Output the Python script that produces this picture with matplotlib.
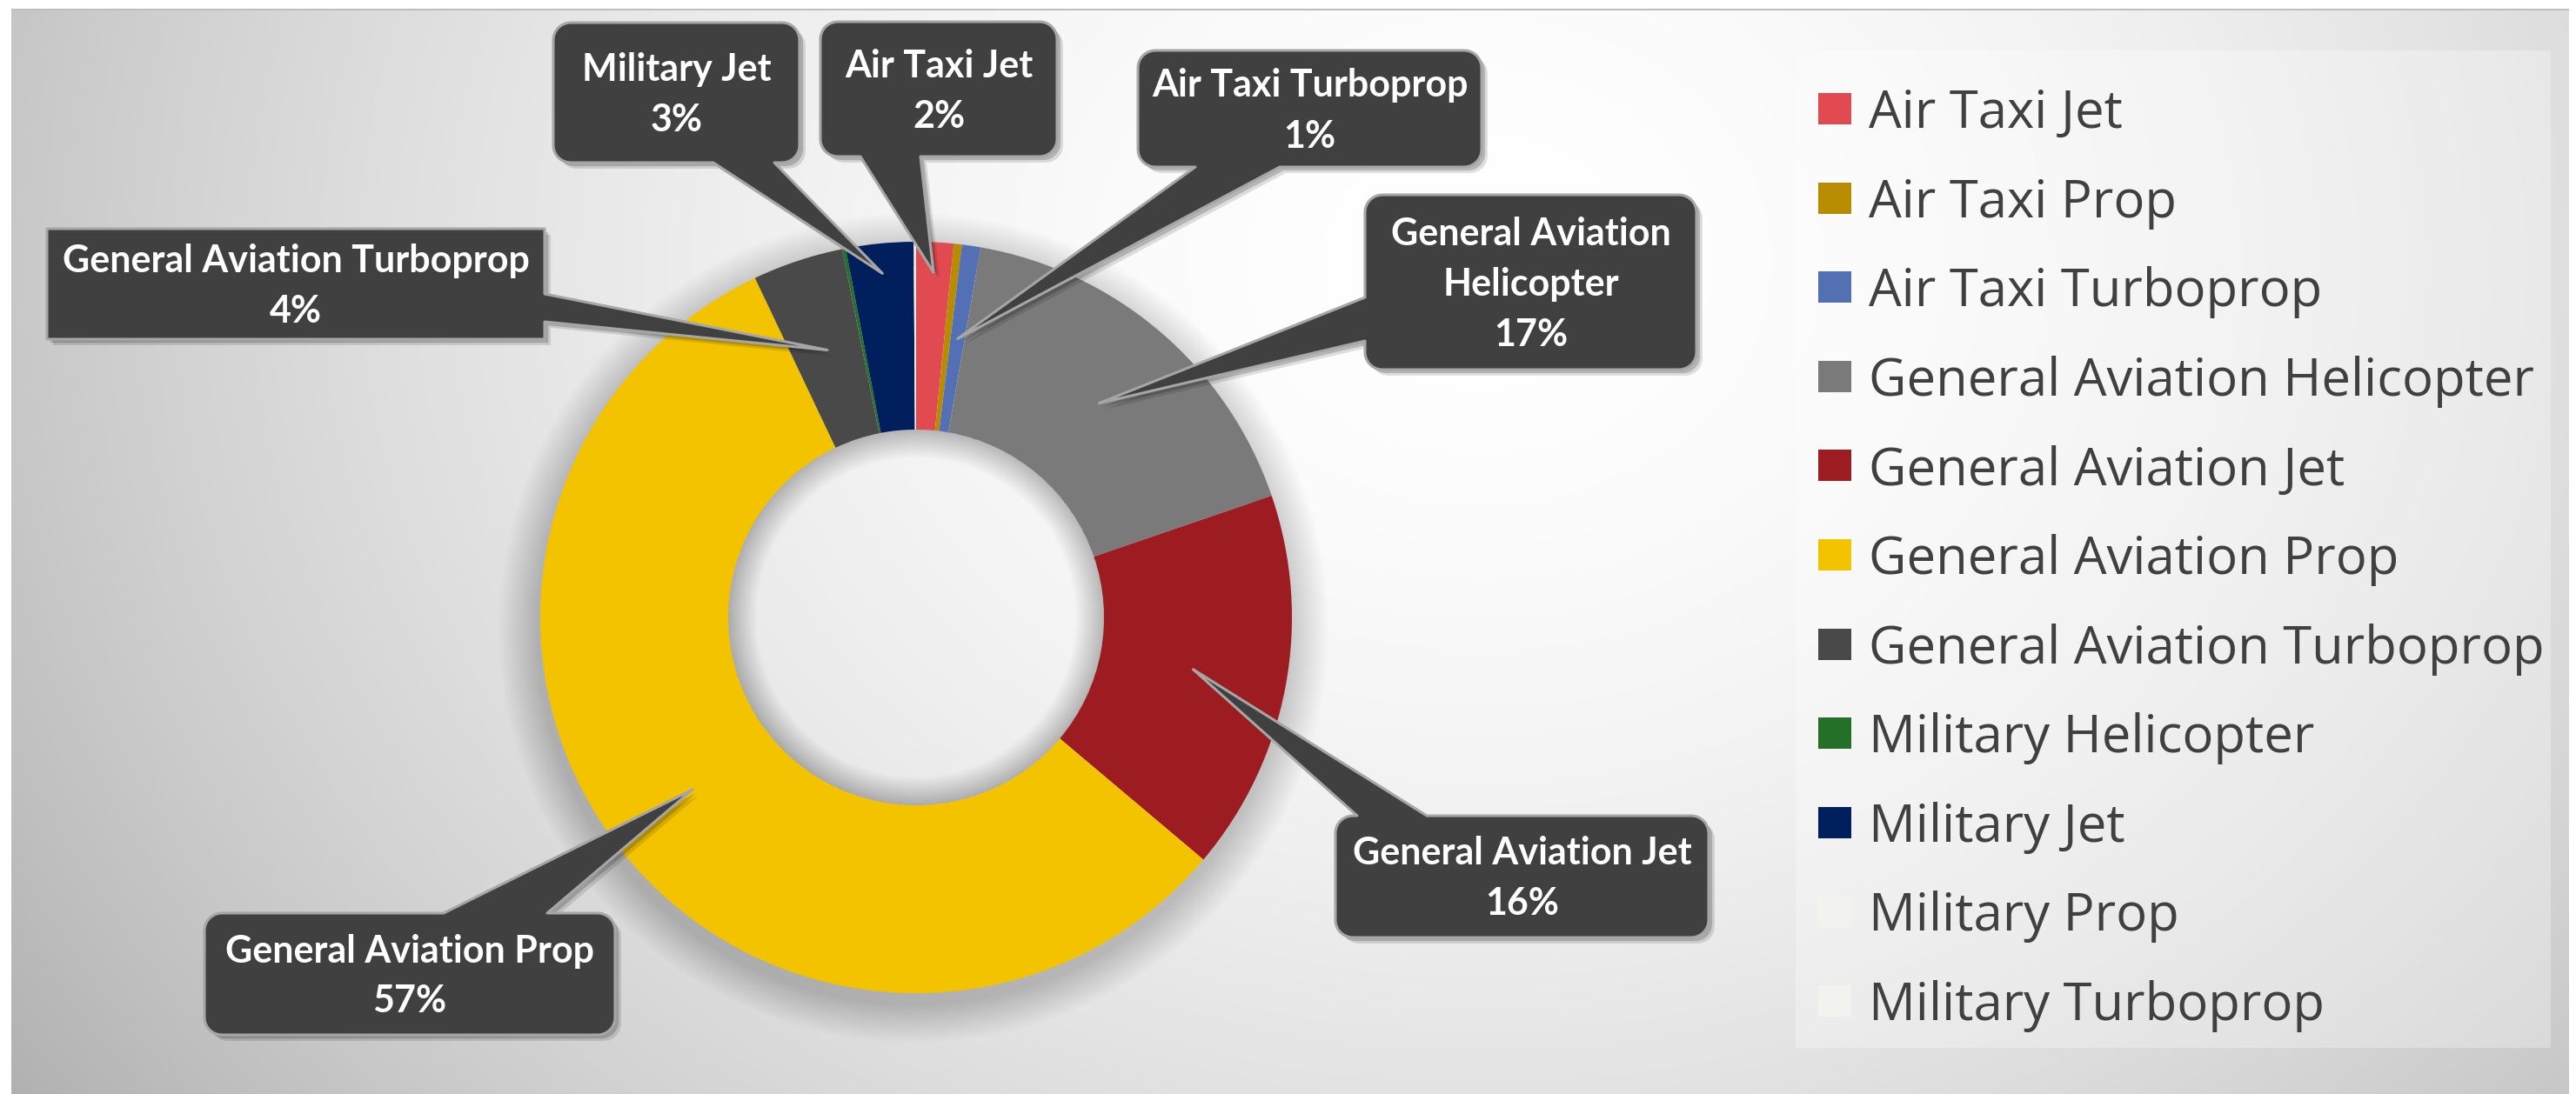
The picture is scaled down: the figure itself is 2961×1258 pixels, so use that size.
import numpy as np
import matplotlib.pyplot as plt
from matplotlib.patches import Polygon, Rectangle, Wedge
import matplotlib.patheffects as pe

W, H = 2961, 1258

# share of operations by aircraft category (%)
categories = ['Air Taxi Jet', 'Air Taxi Prop', 'Air Taxi Turboprop',
              'General Aviation Helicopter', 'General Aviation Jet',
              'General Aviation Prop', 'General Aviation Turboprop',
              'Military Helicopter', 'Military Jet', 'Military Prop',
              'Military Turboprop']
shares = [1.6, 0.35, 0.8, 17.0, 16.4, 56.8, 3.9, 0.15, 2.9, 0.05, 0.05]
colors = ['#E04A50', '#B88C00', '#5470B4', '#7A7A7A', '#9C1C22', '#F4C300',
          '#494949', '#247028', '#001F5C', '#F2F2EE', '#F2F2EE']

# callout boxes: category index, name lines, box (x0, y0, x1, y1) in px from top-left,
# corner radius, side the pointer leaves from, pointer base, tip radius fraction
callouts = [
    (8, ['Military Jet'], (636, 26, 919, 187), 20, 'bottom', (890, 820), 0.92),
    (0, ['Air Taxi Jet'], (943, 25, 1215, 180), 20, 'bottom', (1058, 989), 0.92),
    (2, ['Air Taxi Turboprop'], (1308, 58, 1703, 192), 20, 'bottom', (1471, 1374), 0.75),
    (3, ['General Aviation', 'Helicopter'], (1569, 224, 1950, 425), 20, 'left', (392, 342), 0.75),
    (4, ['General Aviation Jet'], (1535, 938, 1964, 1078), 20, 'top', (1560, 1640), 0.75),
    (5, ['General Aviation Prop'], (235, 1050, 707, 1190), 20, 'top', (510, 629), 0.75),
    (6, ['General Aviation Turboprop'], (54, 263, 626, 390), 0, 'right', (338, 370), 0.75),
]

cx, cy = 1053, 710
R_out, R_in = 432, 216

fig = plt.figure(figsize=(W / 100, H / 100), dpi=100)
ax = fig.add_axes([0, 0, 1, 1])


def Y(y):
    return H - y


# radial grey background
yy, xx = np.mgrid[0:H, 0:W]
d = np.sqrt(((xx - 1700) / 1800.0) ** 2 + ((yy - 300) / 1500.0) ** 2)
v = np.clip(255 - 62 * d ** 1.8, 0, 255)
img = np.repeat(v[:, :, None], 3, axis=2)
img[:10, :] = 255
img[:, :13] = 255
img[:, 2953:] = 255
img[10:12, 13:2953] = 190
ax.imshow(img.astype(np.uint8), extent=(0, W, 0, H), origin='upper', zorder=0)

# soft shadow just outside the ring, dropped a little downwards
for k in range(24):
    spread = 45 * (1 - k / 24.0)
    ax.add_patch(Wedge((cx - 3, Y(cy + 12)), R_out + spread, 0, 360, width=spread + 16,
                       facecolor='k', alpha=0.009, lw=0, zorder=1))

wedges, _ = ax.pie(shares, colors=colors, startangle=90, counterclock=False,
                   radius=R_out, center=(cx, Y(cy)),
                   wedgeprops=dict(width=R_out - R_in, linewidth=0))
for w in wedges:
    w.set_zorder(2)

# inner shadow of the hole
for k in range(20):
    ax.add_patch(Wedge((cx, Y(cy)), R_in, 0, 360, width=2 + k * 1.6,
                       facecolor='k', alpha=0.01, lw=0, zorder=3))

total = float(sum(shares))
starts = np.concatenate([[0], np.cumsum(shares)[:-1]])


def outline(box, r, side, base, tip):
    x0, y0, x1, y1 = box

    def arc(ox, oy, a0, a1):
        if r == 0:
            return []
        t = np.radians(np.linspace(a0, a1, 10))
        return [(ox + r * np.cos(s), oy + r * np.sin(s)) for s in t]

    pts = [(x0 + r, y0)]
    if side == 'top':
        pts += [(base[0], y0), tip, (base[1], y0)]
    pts += [(x1 - r, y0)] + arc(x1 - r, y0 + r, -90, 0)
    if side == 'right':
        pts += [(x1, base[0]), tip, (x1, base[1])]
    pts += [(x1, y1 - r)] + arc(x1 - r, y1 - r, 0, 90)
    if side == 'bottom':
        pts += [(base[0], y1), tip, (base[1], y1)]
    pts += [(x0 + r, y1)] + arc(x0 + r, y1 - r, 90, 180)
    if side == 'left':
        pts += [(x0, base[0]), tip, (x0, base[1])]
    pts += [(x0, y0 + r)] + arc(x0 + r, y0 + r, 180, 270)
    return [(px, Y(py)) for px, py in pts]


shadow = [pe.SimplePatchShadow(offset=(5, -5), shadow_rgbFace='k', alpha=0.12),
          pe.SimplePatchShadow(offset=(3, -3), shadow_rgbFace='k', alpha=0.18),
          pe.Normal()]

for idx, name_lines, box, r, side, base, frac in callouts:
    mid = 90 - 360.0 * (starts[idx] + shares[idx] / 2.0) / total
    tip = (cx + frac * R_out * np.cos(np.radians(mid)),
           cy - frac * R_out * np.sin(np.radians(mid)))
    poly = Polygon(outline(box, r, side, base, tip), closed=True,
                   facecolor='#404040', edgecolor='#A6A6A6', linewidth=2.2,
                   joinstyle='round', zorder=5, path_effects=shadow)
    ax.add_patch(poly)

    pct = 100.0 * shares[idx] / total
    lines = name_lines + ['%d%%' % round(pct)]
    n = len(lines)
    bx = (box[0] + box[2]) / 2.0
    by = (box[1] + box[3]) / 2.0
    for i, s in enumerate(lines):
        base_y = by + 15.5 + 58 * (i - (n - 1) / 2.0)
        ax.text(bx, Y(base_y), s, ha='center', va='baseline', color='white',
                fontsize=31, fontweight='bold', family=['Lato', 'DejaVu Sans'],
                zorder=6)

# legend panel
ax.add_patch(Rectangle((2064, Y(1205)), 2932 - 2064, 1205 - 58,
                       facecolor='white', alpha=0.3, lw=0, zorder=4))
for i, (name, col) in enumerate(zip(categories, colors)):
    ly = 125 + i * 102.6
    ax.add_patch(Rectangle((2090, Y(ly + 18)), 38, 36, facecolor=col, lw=0, zorder=5))
    ax.text(2148, Y(ly + 22), name, ha='left', va='baseline', color='#404040',
            fontsize=43, family=['Open Sans', 'DejaVu Sans'], zorder=6)

ax.set_xlim(0, W)
ax.set_ylim(0, H)
ax.set_aspect('auto')
ax.axis('off')

fig.savefig('out.png', dpi=100)
